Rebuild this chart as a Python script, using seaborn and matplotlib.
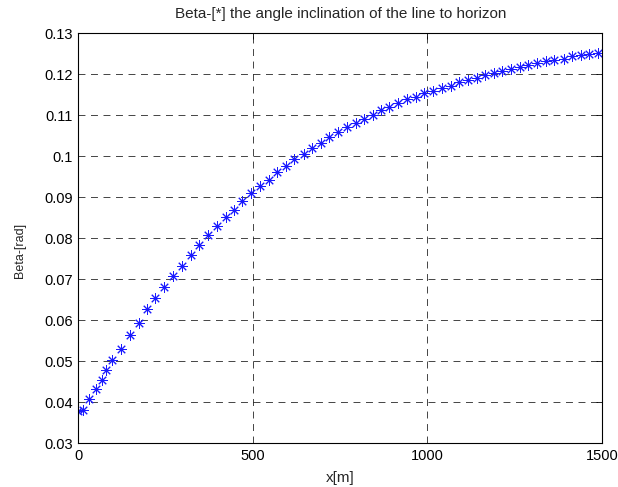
import numpy as np
import matplotlib
matplotlib.use("Agg")
import matplotlib.pyplot as plt
import seaborn as sns
from matplotlib.ticker import FuncFormatter, MultipleLocator

# DATA
x_m = [0, 14, 31, 50, 67, 79, 97, 121, 149, 174, 196, 220, 245, 272, 296,
       321, 346, 371, 398, 422, 446, 470, 494, 519, 546, 570, 594, 618, 645,
       670, 694, 718, 743, 770, 795, 819, 843, 867, 891, 916, 941, 966, 991,
       1017, 1042, 1067, 1091, 1116, 1142, 1166, 1191, 1215, 1239, 1264,
       1289, 1314, 1339, 1364, 1390, 1415, 1440, 1464, 1490]
beta = [0.0379, 0.0381, 0.0408, 0.0431, 0.0455, 0.0479, 0.0502, 0.0529,
        0.0565, 0.0593, 0.0627, 0.0655, 0.0682, 0.0708, 0.0733, 0.0760,
        0.0784, 0.0808, 0.0829, 0.0852, 0.0869, 0.0890, 0.0909, 0.0927,
        0.0943, 0.0961, 0.0977, 0.0992, 0.1005, 0.1021, 0.1032, 0.1047,
        0.1059, 0.1070, 0.1080, 0.1091, 0.1100, 0.1113, 0.1121, 0.1129,
        0.1139, 0.1144, 0.1153, 0.1159, 0.1167, 0.1172, 0.1180, 0.1185,
        0.1191, 0.1197, 0.1203, 0.1207, 0.1212, 0.1217, 0.1223, 0.1227,
        0.1231, 0.1235, 0.1238, 0.1243, 0.1246, 0.1249, 0.1252]

# STYLE SETTINGS
sns.set_style("white")
plt.rcParams['font.family'] = ['Liberation Sans', 'DejaVu Sans']
plt.rcParams['lines.scale_dashes'] = False

fig = plt.figure(figsize=(6.18, 4.87), dpi=100)
ax = fig.add_axes([0.127, 0.090, 0.847, 0.842])

sns.lineplot(x=x_m, y=beta, ax=ax, color='blue', linestyle='',
             marker=(8, 2, 0), markersize=7.5, markeredgecolor='#1a1aff',
             markeredgewidth=0.7)

ax.set_xlim(0, 1500)
ax.set_ylim(0.03, 0.13)
ax.xaxis.set_major_locator(MultipleLocator(500))
ax.yaxis.set_major_locator(MultipleLocator(0.01))
ax.yaxis.set_major_formatter(FuncFormatter(lambda v, p: '%g' % round(v, 3)))

ax.grid(True, color='black', linestyle=(0, (5, 4)), linewidth=0.6, alpha=0.85)
for s in ax.spines.values():
    s.set_color('black')
    s.set_linewidth(0.8)
ax.tick_params(direction='in', length=4, width=0.6, top=True, right=True,
               labelsize=10.5, colors='black', pad=4)

ax.set_title("Beta-[*] the angle inclination of the line to horizon",
             fontsize=11, pad=11)
ax.set_xlabel("x[m]", fontsize=11, labelpad=6)
ax.set_ylabel("Beta-[rad]", fontsize=9)
ax.yaxis.set_label_coords(-0.1, 0.47)

fig.savefig("out.png", dpi=100)
